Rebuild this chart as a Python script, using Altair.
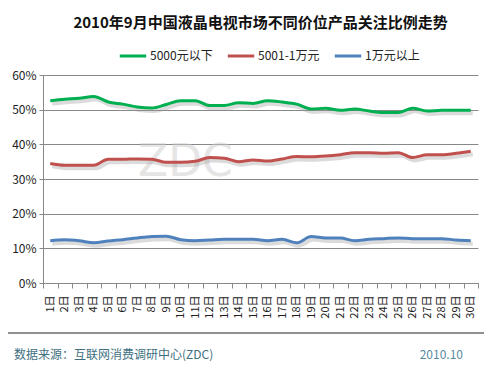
import altair as alt
import pandas as pd

days = [f"{i}日" for i in range(1, 31)]
series_names = ["5000元以下", "5001-1万元", "1万元以上"]
low = [52.6, 53.0, 53.3, 53.8, 52.2, 51.6, 50.8, 50.5, 51.5, 52.6, 52.6, 51.2, 51.2, 52.0, 51.8,
       52.6, 52.2, 51.6, 50.2, 50.4, 49.8, 50.2, 49.6, 49.2, 49.2, 50.4, 49.6, 49.8, 49.8, 49.8]
mid = [34.5, 34.0, 34.0, 34.0, 35.7, 35.7, 35.8, 35.7, 34.8, 34.8, 35.1, 36.2, 36.0, 35.0, 35.5,
       35.2, 35.8, 36.5, 36.4, 36.6, 37.0, 37.6, 37.6, 37.4, 37.6, 36.2, 37.0, 37.0, 37.4, 38.0]
high = [12.2, 12.5, 12.2, 11.6, 12.1, 12.5, 13.0, 13.4, 13.5, 12.5, 12.2, 12.4, 12.6, 12.6, 12.6,
        12.2, 12.6, 11.6, 13.4, 13.0, 13.0, 12.2, 12.6, 12.8, 13.0, 12.8, 12.8, 12.8, 12.4, 12.2]
colors = ["#00b050", "#c0504d", "#4f81bd"]

rows = []
for name, vals in zip(series_names, [low, mid, high]):
    for d, v in zip(days, vals):
        rows.append({"day": d, "series": name, "value": v})
df = pd.DataFrame(rows)

W, H = 435, 208
FONT = "Noto Sans CJK SC"

x_enc = alt.X("day:N", sort=days, bandPosition=0.5,
              scale=alt.Scale(type="band", domain=days, paddingInner=0, paddingOuter=0),
              axis=alt.Axis(title=None, labelAngle=270, labelFontSize=11, labelColor="#222",
                            labelFont=FONT, tickBand="extent", tickColor="#888", domainColor="#888",
                            tickSize=5, labelPadding=7, grid=False))
y_enc = alt.Y("value:Q", scale=alt.Scale(domain=[0, 60]),
              axis=alt.Axis(title=None, values=[0, 10, 20, 30, 40, 50, 60],
                            labelExpr="datum.value + '%'", labelFontSize=12, labelColor="#222",
                            labelFont=FONT, gridColor="#888", domainColor="#888",
                            tickColor="#888", tickSize=4, labelPadding=3))

watermark = alt.Chart(pd.DataFrame({"t": ["ZDC"]})).mark_text(
    fontSize=44, color="#cccccc", opacity=0.5, align="left", baseline="middle", font="DejaVu Sans"
).encode(x=alt.value(95), y=alt.value(88), text="t:N")

shadow = alt.Chart(df).mark_line(strokeWidth=4, color="#999999", opacity=0.35,
                                 xOffset=2, yOffset=3, interpolate="monotone").encode(
    x=x_enc, y=y_enc, detail="series:N")

lines = alt.Chart(df).mark_line(strokeWidth=3, interpolate="monotone").encode(
    x=x_enc, y=y_enc,
    color=alt.Color("series:N", sort=series_names,
                    scale=alt.Scale(domain=series_names, range=colors),
                    legend=alt.Legend(title=None, orient="none", legendX=75, legendY=-34,
                                      direction="horizontal", columns=3, symbolType="stroke",
                                      symbolStrokeWidth=3, symbolSize=700, columnPadding=8,
                                      gridAlign="none",
                                      labelFontSize=12, labelFont=FONT, labelColor="#222",
                                      labelOffset=2)))

title = alt.Chart(pd.DataFrame({"t": ["2010年9月中国液晶电视市场不同价位产品关注比例走势"]})).mark_text(
    fontSize=15, fontWeight="bold", font=FONT, color="#111", align="center", baseline="middle"
).encode(x=alt.value(W / 2), y=alt.value(-52), text="t:N")

sep = alt.Chart(pd.DataFrame({"a": [0]})).mark_rule(color="#222", strokeWidth=1).encode(
    x=alt.value(-35), x2=alt.value(449), y=alt.value(258))

src = alt.Chart(pd.DataFrame({"t": ["数据来源：互联网消费调研中心(ZDC)"]})).mark_text(
    fontSize=12, font=FONT, color="#3d7082", align="left", baseline="middle"
).encode(x=alt.value(-29), y=alt.value(280), text="t:N")

date = alt.Chart(pd.DataFrame({"t": ["2010.10"]})).mark_text(
    fontSize=12, font=FONT, color="#5a8aa0", align="right", baseline="middle"
).encode(x=alt.value(420), y=alt.value(280), text="t:N")

chart = alt.layer(watermark, shadow, lines, title, sep, src, date).properties(
    width=W, height=H,
    autosize=alt.AutoSizeParams(type="none"),
    padding={"left": 35, "top": 67, "right": 6, "bottom": 84},
    background="white",
).configure_view(stroke=None)

chart.save("out.html", embed_options={"renderer": "svg", "actions": False})
